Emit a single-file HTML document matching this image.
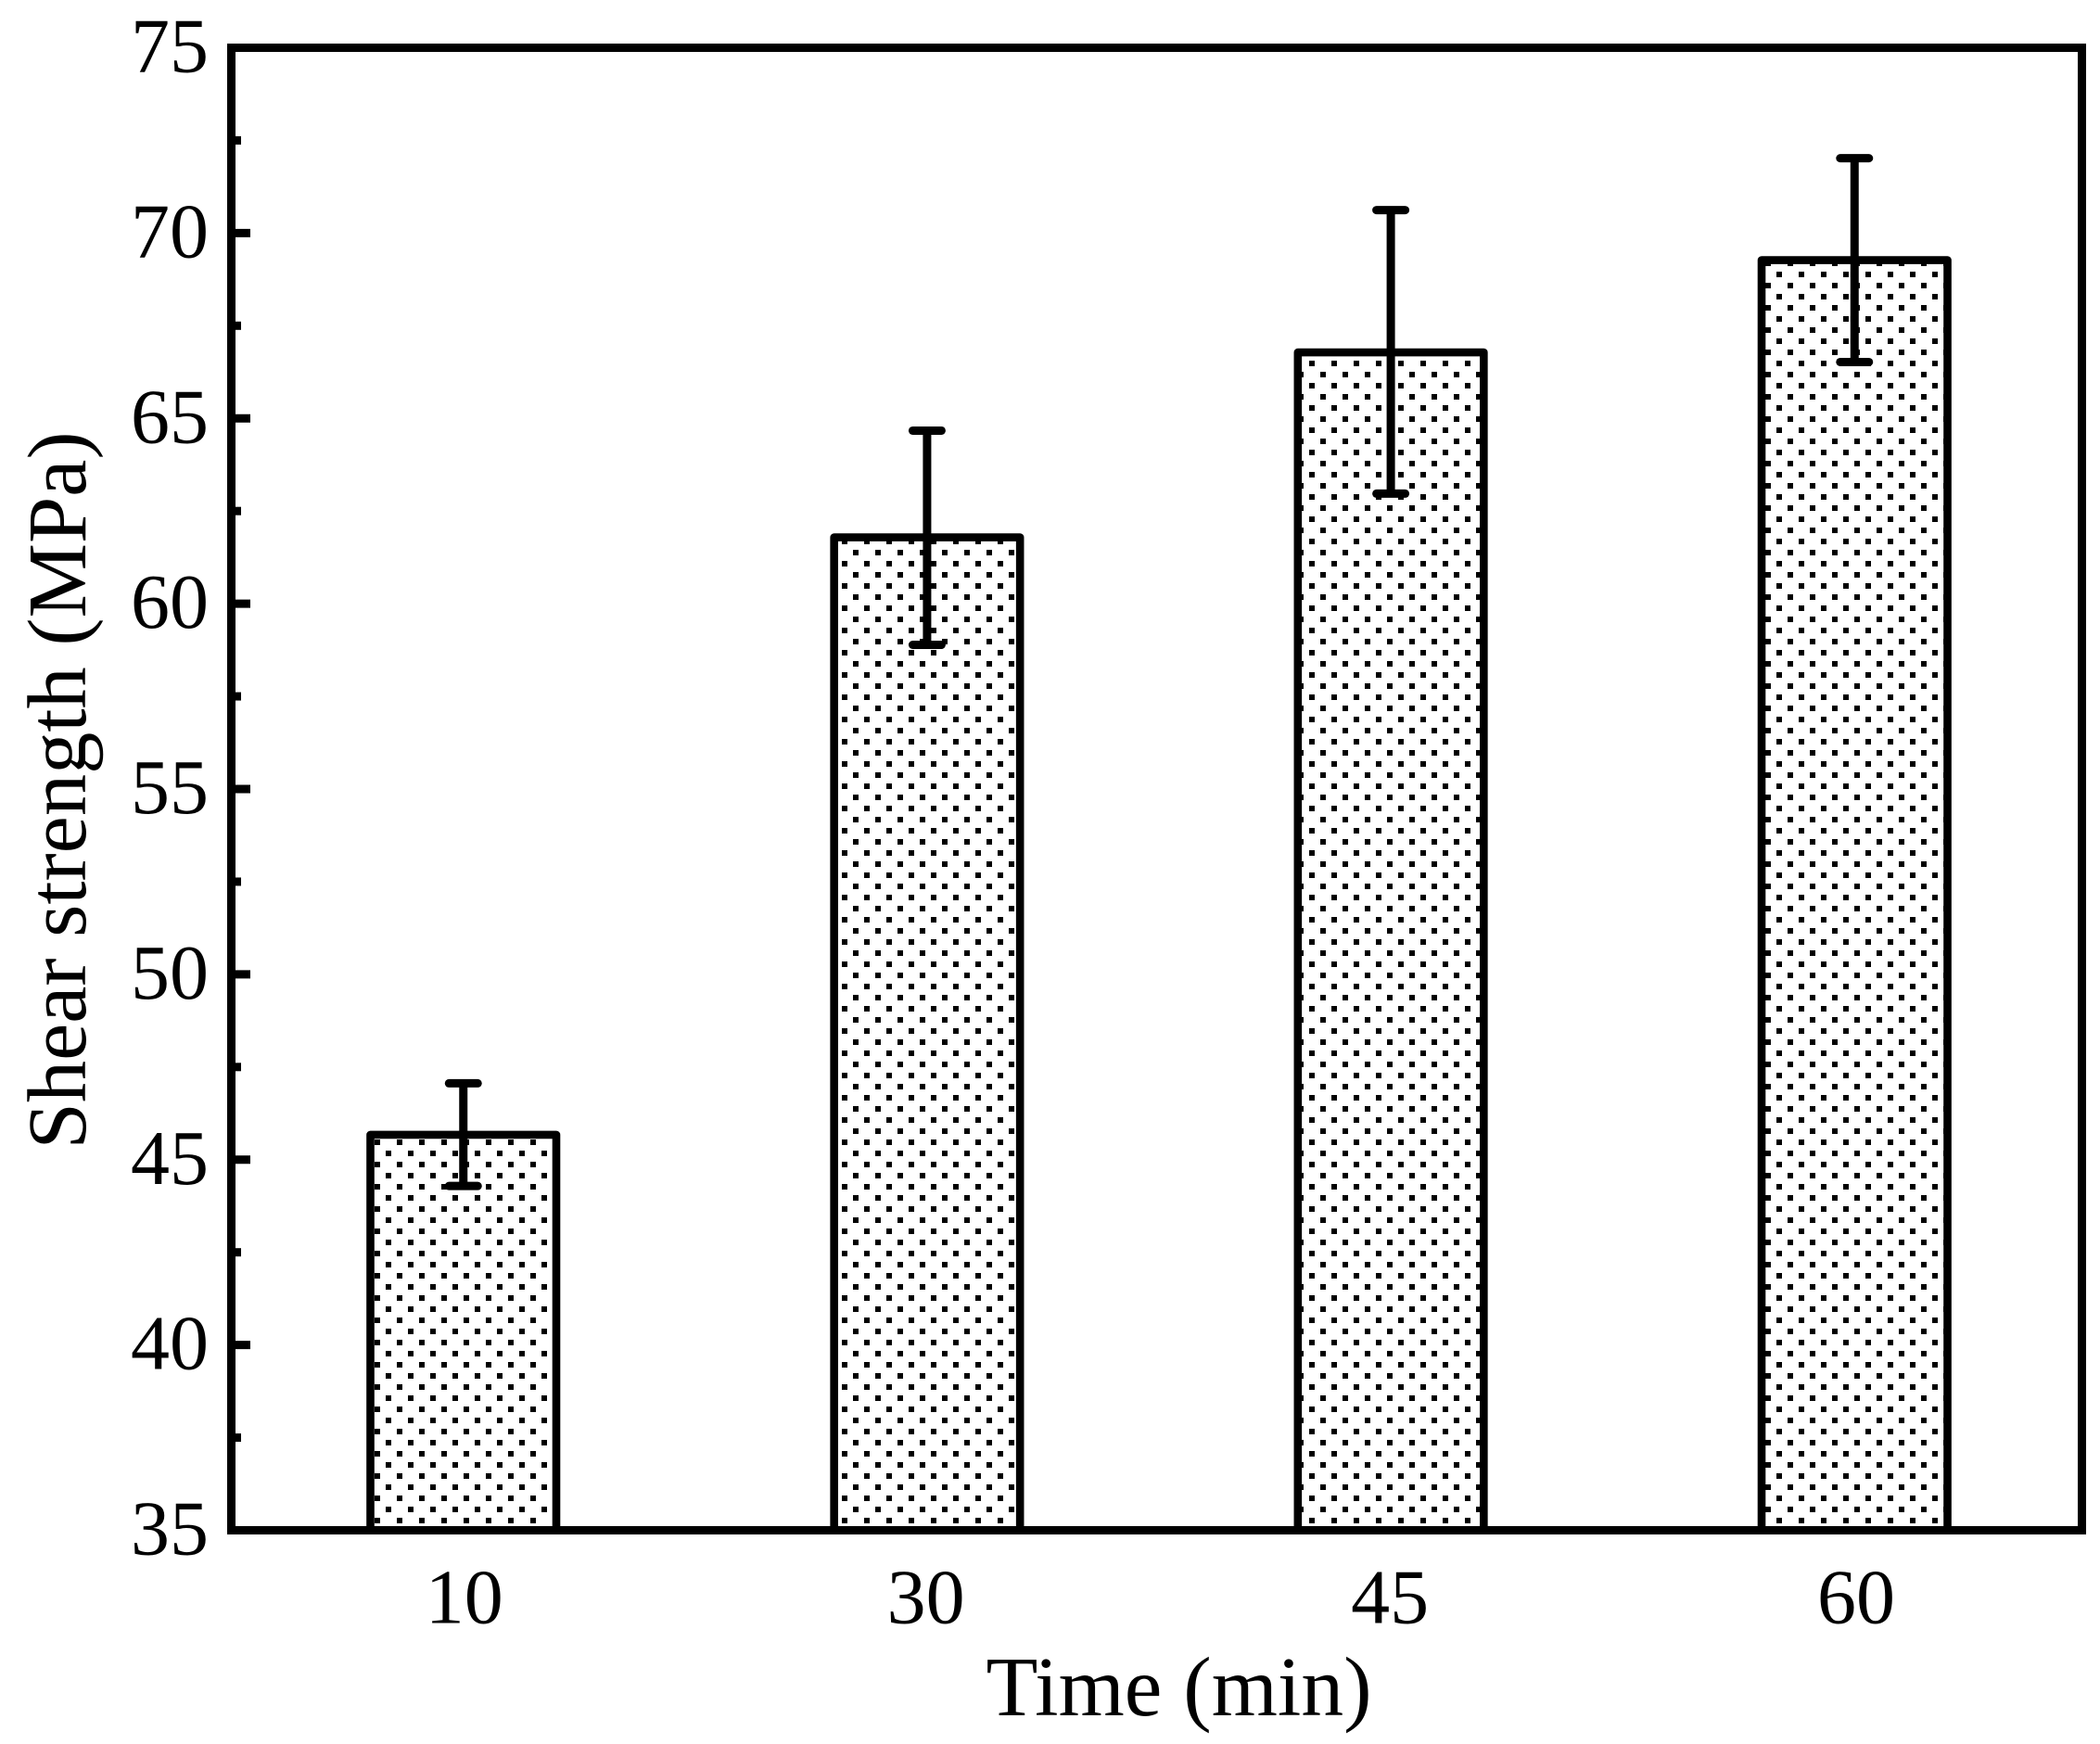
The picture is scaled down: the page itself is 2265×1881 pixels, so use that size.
<!DOCTYPE html>
<html lang="en">
<head>
<meta charset="utf-8">
<title>Shear strength vs time</title>
<style>
html,body{margin:0;padding:0;background:#fff;}
svg{display:block;}
text{font-family:"Liberation Serif","Times New Roman",serif;fill:#000;}
</style>
</head>
<body>
<svg id="chart" xmlns="http://www.w3.org/2000/svg" width="2265" height="1881" viewBox="0 0 2265 1881">
  <defs>
    <pattern id="dots" patternUnits="userSpaceOnUse" x="20" y="5" width="24" height="24">
      <rect x="0" y="0" width="6" height="6" fill="#000"></rect>
      <rect x="12" y="12" width="6" height="6" fill="#000"></rect>
    </pattern>
  </defs>
  <rect x="0" y="0" width="2265" height="1881" fill="#fff"></rect>
  <g id="bars"></g>
  <g id="errors"></g>
  <g id="yticks"></g>
  <g id="ylabels"></g>
  <g id="xlabels"></g>
  <rect id="frame" x="249.5" y="51.5" width="1996" height="1599" fill="none" stroke="#000" stroke-width="9"></rect>
  <text x="1063.5" y="1850" font-size="91.5">Time (min)</text>
  <text transform="translate(92,1239.5) rotate(-90)" x="0" y="0" font-size="90.5">Shear strength (MPa)</text>
</svg>
<script>
const categories = ['10', '30', '45', '60'];
const strengthValues = [45.67, 61.79, 66.78, 69.27];
const errorHigh = [47.06, 64.67, 70.62, 72.02];
const errorLow = [44.29, 58.89, 62.97, 66.52];
const yMajorTicks = [35, 40, 45, 50, 55, 60, 65, 70, 75];
const yMinorTicks = [37.5, 42.5, 47.5, 52.5, 57.5, 62.5, 67.5, 72.5];

const NS = 'http://www.w3.org/2000/svg';
function yScale(v) { return 1650.5 - (v - 35) * 39.975; }
function xScale(i) { return 499.75 + i * 500.17; }
function make(tag, attrs, parentId) {
  const el = document.createElementNS(NS, tag);
  Object.keys(attrs).forEach(function (k) { el.setAttribute(k, attrs[k]); });
  document.getElementById(parentId).appendChild(el);
  return el;
}

const barHalf = 100.25;
const capHalf = 15.5;
const baseY = yScale(35);
const labelNudge = [1, -1.25, -1, 1.75];

categories.forEach(function (cat, i) {
  const cx = xScale(i);
  const top = yScale(strengthValues[i]);

  const bar = make('rect', {
    x: cx - barHalf, y: top, width: barHalf * 2, height: baseY - top,
    fill: 'url(#dots)', stroke: '#000', 'stroke-width': 8.6, 'stroke-linejoin': 'round'
  }, 'bars');
  
  

  const hi = yScale(errorHigh[i]);
  const lo = yScale(errorLow[i]);

  const stem = make('line', {
    x1: cx, x2: cx, y1: hi, y2: lo, stroke: '#000', 'stroke-width': 9
  }, 'errors');
  
  

  const capTop = make('line', {
    x1: cx - capHalf, x2: cx + capHalf, y1: hi, y2: hi,
    stroke: '#000', 'stroke-width': 9, 'stroke-linecap': 'round'
  }, 'errors');
  
  

  const capBottom = make('line', {
    x1: cx - capHalf, x2: cx + capHalf, y1: lo, y2: lo,
    stroke: '#000', 'stroke-width': 9, 'stroke-linecap': 'round'
  }, 'errors');
  
  

  const label = make('text', {
    x: cx + labelNudge[i], y: 1750.5, 'font-size': 84, 'text-anchor': 'middle'
  }, 'xlabels');
  
  
  label.textContent = cat;
});

yMajorTicks.forEach(function (v) {
  const y = yScale(v);
  const tick = make('line', {
    x1: 250, x2: 270, y1: y, y2: y, stroke: '#000', 'stroke-width': 9
  }, 'yticks');
  
  

  const label = make('text', {
    x: 225, y: y + 26, 'font-size': 84, 'text-anchor': 'end'
  }, 'ylabels');
  
  
  label.textContent = String(v);
});

yMinorTicks.forEach(function (v) {
  const y = yScale(v);
  const tick = make('line', {
    x1: 250, x2: 260, y1: y, y2: y, stroke: '#000', 'stroke-width': 9
  }, 'yticks');
  
  
});
</script>
</body>
</html>
